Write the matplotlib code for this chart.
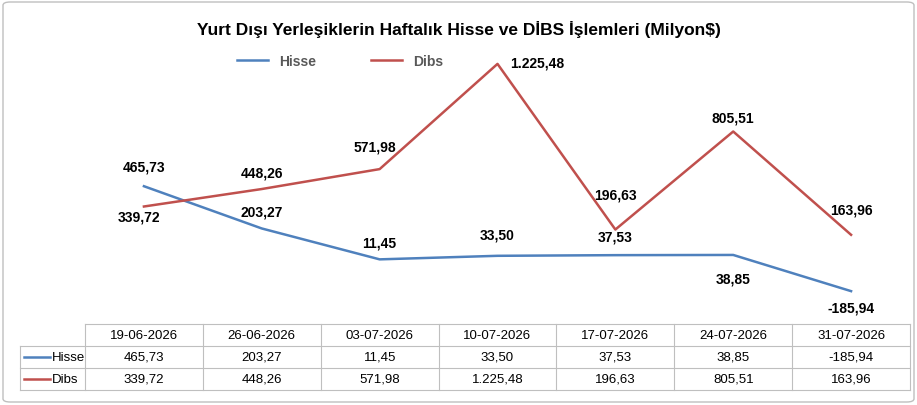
import matplotlib
matplotlib.use('Agg')
import matplotlib.pyplot as plt
from matplotlib.lines import Line2D
from matplotlib.patches import FancyBboxPatch

plt.rcParams['font.family'] = ['Liberation Sans', 'DejaVu Sans']

dates = ['19-06-2026', '26-06-2026', '03-07-2026', '10-07-2026', '17-07-2026', '24-07-2026', '31-07-2026']
hisse = [465.73, 203.27, 11.45, 33.50, 37.53, 38.85, -185.94]
dibs = [339.72, 448.26, 571.98, 1225.48, 196.63, 805.51, 163.96]
hisse_lbl = ['465,73', '203,27', '11,45', '33,50', '37,53', '38,85', '-185,94']
dibs_lbl = ['339,72', '448,26', '571,98', '1.225,48', '196,63', '805,51', '163,96']
# label offsets (pixels) above/below each point
hisse_dy = [20, 17, 17, 21, 19, -24, -16]
dibs_dy = [-10, 17, 23, 1, 35, 14, 25]
dibs_dx = [-5, 0, -5, 40, 0, 0, 0]

C_H = '#4F81BD'
C_D = '#C0504D'
GRID = '#BFBFBF'

W, H = 917, 406
fig = plt.figure(figsize=(W / 100, H / 100), dpi=100)
fig.add_artist(FancyBboxPatch((3 / W, 3 / H), 1 - 6 / W, 1 - 6 / H,
                              boxstyle='round,pad=0,rounding_size=0.008',
                              transform=fig.transFigure, fill=False, ec=GRID, lw=1))

ax = fig.add_axes([85 / W, (H - 325) / H, 825 / W, 285 / H])
x = [i + 0.5 for i in range(len(dates))]
ax.plot(x, hisse, color=C_H, lw=1.8, label='Hisse')
ax.plot(x, dibs, color=C_D, lw=1.8, label='Dibs')
ax.set_xlim(0, 7)
ax.set_ylim(-390, 1380)
ax.axis('off')

for xi, v, t, dy in zip(x, hisse, hisse_lbl, hisse_dy):
    ax.annotate(t, (xi, v), xytext=(0, dy), textcoords='offset pixels',
                ha='center', va='center', fontsize=10, fontweight='bold')
for xi, v, t, dy, dx in zip(x, dibs, dibs_lbl, dibs_dy, dibs_dx):
    ax.annotate(t, (xi, v), xytext=(dx, dy), textcoords='offset pixels',
                ha='center', va='center', fontsize=10, fontweight='bold')

fig.text(0.5, 1 - 30 / H, 'Yurt Dışı Yerleşiklerin Haftalık Hisse ve DİBS İşlemleri (Milyon$)',
         ha='center', va='center', fontsize=12.5, fontweight='bold')
leg = ax.legend(loc='center', bbox_to_anchor=(340 / W, 1 - 62 / H), bbox_transform=fig.transFigure,
                ncol=2, frameon=False, fontsize=10, handlelength=2.2, columnspacing=4)
for t in leg.get_texts():
    t.set_fontweight('bold')
    t.set_color('#595959')

# data table drawn by hand in figure pixels
def fx(px):
    return px / W

def fy(py):
    return 1 - py / H

x0, x1 = 85, 910
colw = (x1 - x0) / len(dates)
ys = [325, 347, 369, 391]
lk = dict(color=GRID, lw=0.8, transform=fig.transFigure)
fig.add_artist(Line2D([fx(x0), fx(x1)], [fy(ys[0])] * 2, **lk))
for yy in ys[1:]:
    fig.add_artist(Line2D([fx(20), fx(x1)], [fy(yy)] * 2, **lk))
fig.add_artist(Line2D([fx(20), fx(20)], [fy(ys[1]), fy(ys[3])], **lk))
for i in range(len(dates) + 1):
    xx = x0 + i * colw
    fig.add_artist(Line2D([fx(xx), fx(xx)], [fy(ys[0]), fy(ys[3])], **lk))
for i, d in enumerate(dates):
    cx = x0 + (i + 0.5) * colw
    fig.text(fx(cx), fy(336), d, ha='center', va='center', fontsize=9.5)
    fig.text(fx(cx), fy(358), hisse_lbl[i], ha='center', va='center', fontsize=9.5)
    fig.text(fx(cx), fy(380), dibs_lbl[i], ha='center', va='center', fontsize=9.5)
for yy, col, name in [(358, C_H, 'Hisse'), (380, C_D, 'Dibs')]:
    fig.add_artist(Line2D([fx(24), fx(50)], [fy(yy)] * 2, color=col, lw=1.8,
                          transform=fig.transFigure))
    fig.text(fx(52), fy(yy), name, ha='left', va='center', fontsize=9.5)

fig.savefig('out.png', dpi=100)
